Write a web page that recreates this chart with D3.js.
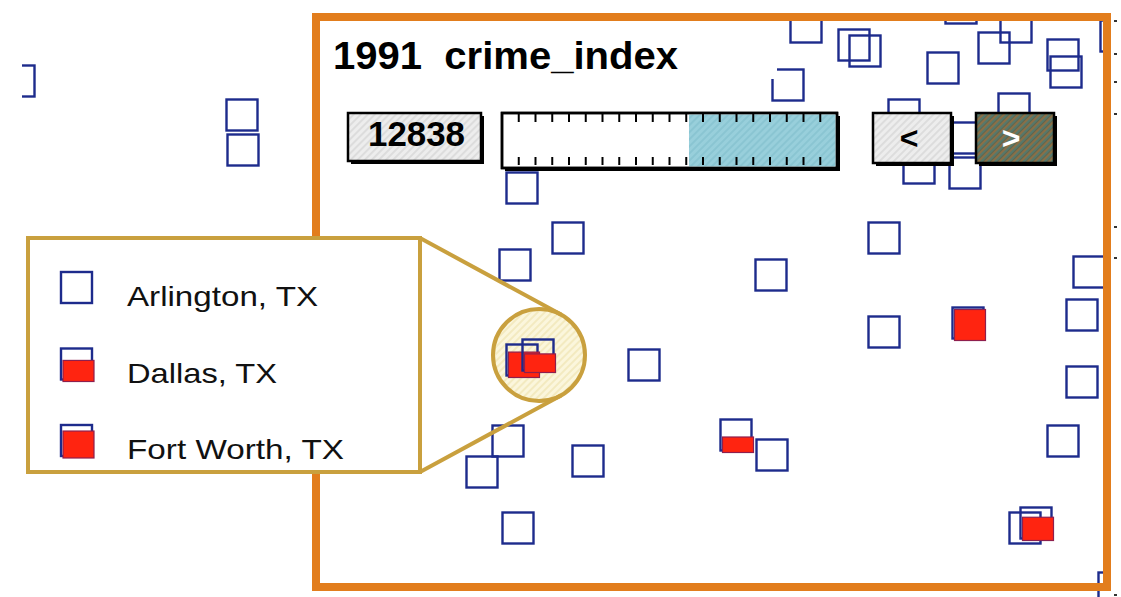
<!DOCTYPE html>
<html lang="en">
  <head>
    <meta charset="UTF-8" />
    <title>1991 crime_index</title>
    <script src="https://d3js.org/d3.v7.min.js"></script>
    <style>
      body {
        margin: 0;
        background: #fff;
        font-family: 'Liberation Sans', Arial, sans-serif;
      }
      .city {
        fill: none;
        stroke: #1d2b8c;
        stroke-width: 2.4px;
      }
      .crime {
        fill: #ff2410;
        stroke: #8e1f4e;
        stroke-width: 1.2px;
      }
      .widget {
        stroke: #000;
        stroke-width: 2.5px;
      }
      .shadow {
        fill: #000;
      }
      .gold {
        stroke: #c9a03e;
        stroke-width: 4px;
      }
    </style>
  </head>
  <body>
    <svg width="1121" height="597"></svg>
    <script>
      // city positions (east / north, map units) and crime level (0..1 of the box)
      const east = [
        1.9, 24.2, 24.3, 78.8, 80.6, 85.4, 86.5, 94.3, 96.1, 101.6, 99.4, 106.3,
        106.6, 111.6, 90.4, 101.4, 96.1, 96.5, 91.9, 52.2, 56.8, 51.5, 77.1, 88.4,
        88.4, 96.8, 108.9, 108.2, 108.2, 106.3, 64.4, 52.2, 53.8, 73.6, 77.2, 50.8,
        48.2, 58.8, 51.8, 102.5, 103.6, 111.4,
      ];
      const north = [
        51.6, 48.2, 44.7, 51.2, 57.0, 55.2, 54.6, 52.9, 58.9, 57.0, 54.9, 54.2,
        52.5, 56.1, 48.2, 48.8, 45.9, 42.4, 42.9, 40.9, 35.9, 33.2, 32.2, 35.9,
        26.5, 27.4, 32.5, 28.2, 21.5, 15.6, 23.2, 23.7, 24.2, 16.2, 14.2, 15.6,
        12.5, 13.6, 6.9, 6.9, 7.4, 0.9,
      ];
      const crime = [
        0, 0, 0, 0, 0, 0, 0, 0, 0, 0, 0, 0, 0, 0, 0, 0, 0, 0, 0, 0, 0, 0, 0, 0,
        0, 1, 0, 0, 0, 0, 0, 0.82, 0.6, 0.5, 0, 0, 0, 0, 0, 0, 0.75, 0,
      ];

      const legendCities = ['Arlington, TX', 'Dallas, TX', 'Fort Worth, TX'];
      const legendCrime = [0, 0.68, 0.87];

      const title = '1991  crime_index';
      const sliderMax = 23000;
      const sliderValue = 12838;
      const sliderTicks = d3.range(1, 20).map((i) => i * 1150);
      const edgeTicks = [57.6, 54.3, 51.5, 48.3, 37.0, 33.9, 0.2];
      const lens = { east: 53.9, north: 24.2 };

      const svg = d3.select('svg');
      const x = d3.scaleLinear().domain([0, 112.1]).range([0, 1121]);
      const y = d3.scaleLinear().domain([0, 59.7]).range([597, 0]);
      const size = 31;
      const fillH = d3.scaleLinear().domain([0, 1]).range([0, size]);

      // patterns
      const defs = svg.append('defs');
      function hatch(id, base, lines, w) {
        const p = defs
          .append('pattern')
          .attr('id', id)
          .attr('width', 5)
          .attr('height', 5)
          .attr('patternUnits', 'userSpaceOnUse')
          .attr('patternTransform', 'rotate(45)');
        p.append('rect').attr('width', 5).attr('height', 5).attr('fill', base);
        lines.forEach((c, i) =>
          p
            .append('line')
            .attr('x1', 1 + i * 2)
            .attr('x2', 1 + i * 2)
            .attr('y1', 0)
            .attr('y2', 5)
            .attr('stroke', c)
            .attr('stroke-width', w)
        );
      }
      hatch('lensHatch', '#fbf6dc', ['#efe2ae'], 1.2);
      hatch('greyHatch', '#ededed', ['#d2d2d2'], 1.2);
      hatch('blueHatch', '#98cfdb', ['#80bfcd'], 1.2);
      hatch('darkHatch', '#5d6650', ['#b8773c', '#4f8a86'], 1);

      defs
        .append('clipPath')
        .attr('id', 'plotClip')
        .append('rect')
        .attr('x', 22)
        .attr('y', 21)
        .attr('width', 1084)
        .attr('height', 576);

      const lx = x(lens.east);
      const ly = y(lens.north);
      const lr = 46;

      svg
        .append('circle')
        .attr('class', 'gold')
        .attr('cx', lx)
        .attr('cy', ly)
        .attr('r', lr)
        .attr('fill', 'url(#lensHatch)');

      function glyph(sel) {
        sel.append('rect').attr('class', 'city').attr('width', size).attr('height', size);
        sel
          .filter((d) => d.c > 0)
          .append('rect')
          .attr('class', 'crime')
          .attr('x', 2)
          .attr('y', (d) => size - fillH(d.c) + 2)
          .attr('width', size)
          .attr('height', (d) => fillH(d.c));
      }

      // city glyphs
      const pts = east.map((e, i) => ({ e, n: north[i], c: crime[i] }));
      const plot = svg.append('g').attr('clip-path', 'url(#plotClip)');
      plot
        .selectAll('g.cell')
        .data(pts)
        .join('g')
        .attr('class', 'cell')
        .attr(
          'transform',
          (d) => `translate(${x(d.e) - size / 2},${y(d.n) - size / 2})`
        )
        .call(glyph);

      // title
      svg
        .append('rect')
        .attr('x', 322)
        .attr('y', 22)
        .attr('width', 455)
        .attr('height', 57)
        .attr('fill', '#fff');
      svg
        .append('text')
        .attr('x', 333)
        .attr('y', 69)
        .attr('font-size', 38)
        .attr('font-weight', 'bold')
        .attr('textLength', 345)
        .attr('lengthAdjust', 'spacingAndGlyphs')
        .style('white-space', 'pre')
        .text(title);

      function widget(x0, y0, w, h, fill) {
        svg
          .append('rect')
          .attr('class', 'shadow')
          .attr('x', x0 + 3)
          .attr('y', y0 + 3)
          .attr('width', w)
          .attr('height', h);
        return svg
          .append('rect')
          .attr('class', 'widget')
          .attr('x', x0)
          .attr('y', y0)
          .attr('width', w)
          .attr('height', h)
          .attr('fill', fill);
      }

      // value box
      widget(348, 113, 133, 48, 'url(#greyHatch)');
      svg
        .append('text')
        .attr('x', 368)
        .attr('y', 146)
        .attr('font-size', 35)
        .attr('font-weight', 'bold')
        .attr('textLength', 97)
        .attr('lengthAdjust', 'spacingAndGlyphs')
        .text(d3.format('d')(sliderValue));

      // slider
      const s = d3.scaleLinear().domain([0, sliderMax]).range([502, 837]);
      widget(502, 113, 335, 55, '#fff');
      svg
        .append('rect')
        .attr('x', s(sliderValue))
        .attr('y', 114.5)
        .attr('width', s(sliderMax) - s(sliderValue) - 1.5)
        .attr('height', 52)
        .attr('fill', 'url(#blueHatch)');
      const tk = svg.append('g').attr('stroke', '#000').attr('stroke-width', 2);
      tk.selectAll('line.top')
        .data(sliderTicks)
        .join('line')
        .attr('class', 'top')
        .attr('x1', (d) => s(d))
        .attr('x2', (d) => s(d))
        .attr('y1', 114)
        .attr('y2', 122);
      tk.selectAll('line.bot')
        .data(sliderTicks)
        .join('line')
        .attr('class', 'bot')
        .attr('x1', (d) => s(d))
        .attr('x2', (d) => s(d))
        .attr('y1', 157)
        .attr('y2', 165);
      svg
        .append('rect')
        .attr('class', 'widget')
        .attr('x', 502)
        .attr('y', 113)
        .attr('width', 335)
        .attr('height', 55)
        .attr('fill', 'none');

      // step buttons
      widget(873, 113, 78, 50, 'url(#greyHatch)');
      svg
        .append('text')
        .attr('x', 909)
        .attr('y', 149)
        .attr('text-anchor', 'middle')
        .attr('font-size', 32)
        .attr('font-weight', 'bold')
        .text('<');
      widget(976, 113, 78, 50, 'url(#darkHatch)');
      svg
        .append('text')
        .attr('x', 1011)
        .attr('y', 149)
        .attr('text-anchor', 'middle')
        .attr('font-size', 32)
        .attr('font-weight', 'bold')
        .attr('fill', '#fff')
        .text('>');

      // frame
      svg
        .append('rect')
        .attr('x', 316)
        .attr('y', 17)
        .attr('width', 791)
        .attr('height', 570)
        .attr('fill', 'none')
        .attr('stroke', '#e27d1d')
        .attr('stroke-width', 8);

      svg
        .append('g')
        .selectAll('rect')
        .data(edgeTicks)
        .join('rect')
        .attr('x', 1114)
        .attr('y', (d) => y(d) - 1)
        .attr('width', 3)
        .attr('height', 2)
        .attr('fill', '#333');

      // callout from legend to lens
      const bx0 = 28,
        by0 = 238,
        bx1 = 420,
        by1 = 472;
      function tangent(px, py, upper) {
        const dx = lx - px,
          dy = ly - py;
        const d = Math.hypot(dx, dy);
        const a = Math.atan2(dy, dx) + (upper ? -1 : 1) * Math.asin(lr / d);
        const t = Math.sqrt(d * d - lr * lr);
        return [px + t * Math.cos(a), py + t * Math.sin(a)];
      }
      const t1 = tangent(bx1, by0, true);
      const t2 = tangent(bx1, by1, false);
      svg
        .append('path')
        .attr('class', 'gold')
        .attr('fill', 'none')
        .attr('d', `M${bx1},${by0}L${t1[0]},${t1[1]}M${bx1},${by1}L${t2[0]},${t2[1]}`);

      svg
        .append('rect')
        .attr('class', 'gold')
        .attr('x', bx0)
        .attr('y', by0)
        .attr('width', bx1 - bx0)
        .attr('height', by1 - by0)
        .attr('fill', '#fff');

      const legendW = [191, 150, 217];
      const legRows = legendCities.map((name, i) => ({
        name,
        c: legendCrime[i],
        w: legendW[i],
      }));
      const leg = svg
        .selectAll('g.leg')
        .data(legRows)
        .join('g')
        .attr('class', 'leg')
        .attr('transform', (d, i) => `translate(61,${272 + i * 76.5})`)
        .call(glyph);
      leg
        .append('text')
        .attr('x', 66)
        .attr('y', 34)
        .attr('font-size', 28)
        .attr('fill', '#111')
        .attr('textLength', (d) => d.w)
        .attr('lengthAdjust', 'spacingAndGlyphs')
        .text((d) => d.name);
    </script>
  </body>
</html>
